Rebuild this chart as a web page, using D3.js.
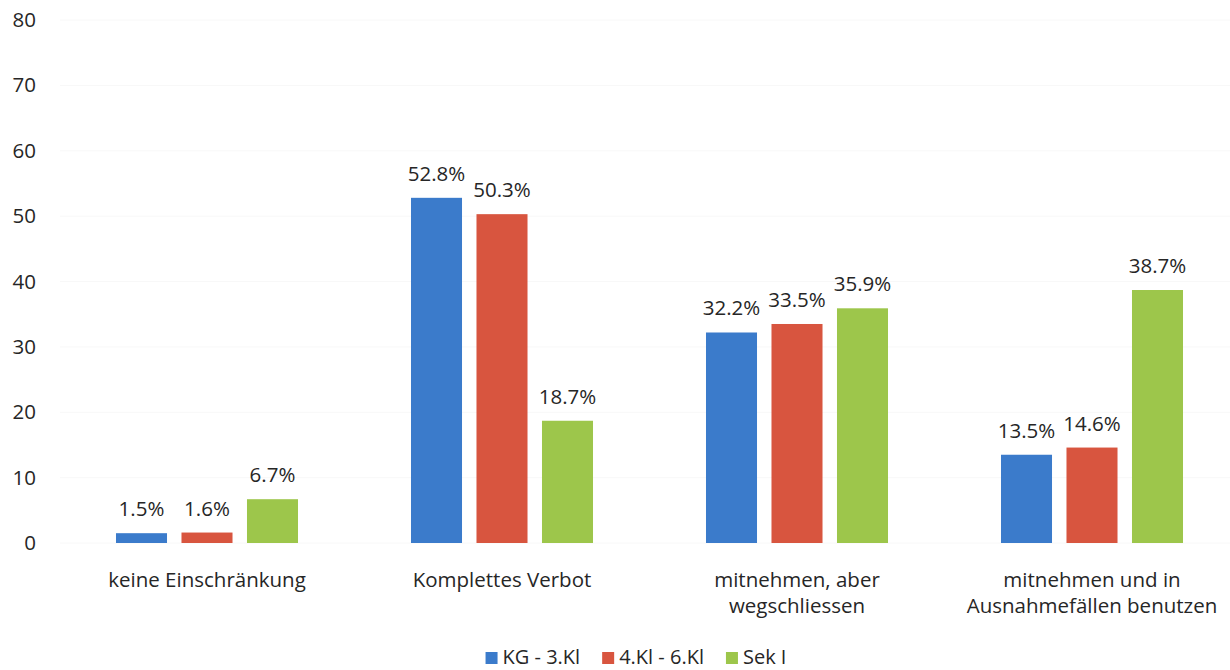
<!DOCTYPE html>
<html>
<head>
<meta charset="utf-8">
<script src="https://cdn.jsdelivr.net/npm/d3@7"></script>
<style>
  html, body { margin: 0; padding: 0; background: #fff; }
  svg text { font-family: "Open Sans", "Noto Sans", sans-serif; fill: #262626; }
</style>
</head>
<body>
<svg id="chart" width="1230" height="670"></svg>
<script>
const categories = [
  ["keine Einschränkung"],
  ["Komplettes Verbot"],
  ["mitnehmen, aber", "wegschliessen"],
  ["mitnehmen und in", "Ausnahmefällen benutzen"]
];
const seriesNames = ["KG - 3.Kl", "4.Kl - 6.Kl", "Sek I"];
const kg3 = [1.5, 52.8, 32.2, 13.5];
const kl46 = [1.6, 50.3, 33.5, 14.6];
const sek1 = [6.7, 18.7, 35.9, 38.7];
const yTicks = [0, 10, 20, 30, 40, 50, 60, 70, 80];
const colors = ["#3b7bcb", "#d8553f", "#9dc64b"];

const seriesValues = [kg3, kl46, sek1];
const svg = d3.select("#chart");

const catIdx = categories.map((d, i) => i);
const x0 = d3.scaleBand().domain(catIdx).range([59.5, 1239.5]).paddingInner(0.383).paddingOuter(0.1915);
const x1 = d3.scaleBand().domain(d3.range(seriesNames.length)).range([0, x0.bandwidth()]).paddingInner(0.221).paddingOuter(0);
const y = d3.scaleLinear().domain([0, 80]).range([543, 20]);

// very faint gridlines
svg.append("g").selectAll("line").data(yTicks).join("line")
  .attr("x1", 60).attr("x2", 1230)
  .attr("y1", d => y(d)).attr("y2", d => y(d))
  .attr("stroke", "#f8f8f8").attr("stroke-width", 1);

// y axis
const yAxis = d3.axisLeft(y).tickValues(yTicks).tickSize(0).tickPadding(0);
const gy = svg.append("g").attr("transform", "translate(36,0)").call(yAxis);
gy.select(".domain").remove();
gy.selectAll("text").style("font-size", "20.5px").style("fill", "#262626").attr("font-family", null);

// bars
const groups = svg.append("g").selectAll("g").data(catIdx).join("g")
  .attr("transform", i => `translate(${x0(i)},0)`);

groups.selectAll("rect").data(i => seriesValues.map((s, k) => ({k, v: s[i]}))).join("rect")
  .attr("x", d => x1(d.k))
  .attr("width", x1.bandwidth())
  .attr("y", d => y(d.v))
  .attr("height", d => y(0) - y(d.v))
  .attr("fill", d => colors[d.k]);

groups.selectAll("text.val").data(i => seriesValues.map((s, k) => ({k, v: s[i]}))).join("text")
  .attr("class", "val")
  .attr("x", d => x1(d.k) + x1.bandwidth() / 2)
  .attr("y", d => y(d.v) - 17)
  .attr("text-anchor", "middle")
  .style("font-size", "20.5px")
  .text(d => d.v.toFixed(1) + "%");

// category labels
const cl = svg.append("g").selectAll("text").data(catIdx).join("text")
  .attr("x", i => x0(i) + x0.bandwidth() / 2)
  .attr("y", 587)
  .attr("text-anchor", "middle")
  .style("font-size", "20.5px");
cl.selectAll("tspan").data(i => categories[i]).join("tspan")
  .attr("x", function() { return d3.select(this.parentNode).attr("x"); })
  .attr("dy", (d, j) => j === 0 ? 0 : 26)
  .text(d => d);

// legend
const legend = svg.append("g");
const items = legend.selectAll("g").data(seriesNames).join("g");
items.append("rect").attr("width", 12).attr("height", 12).attr("y", -12)
  .attr("fill", (d, i) => colors[i]);
items.append("text").attr("x", 17).attr("y", 0).style("font-size", "20px").text(d => d);
let xoff = 0;
items.each(function() {
  const w = this.getBBox().width;
  d3.select(this).attr("transform", `translate(${xoff},0)`);
  xoff += w + 22;
});
const totalW = xoff - 22;
legend.attr("transform", `translate(${636 - totalW / 2},664)`);
</script>
</body>
</html>
